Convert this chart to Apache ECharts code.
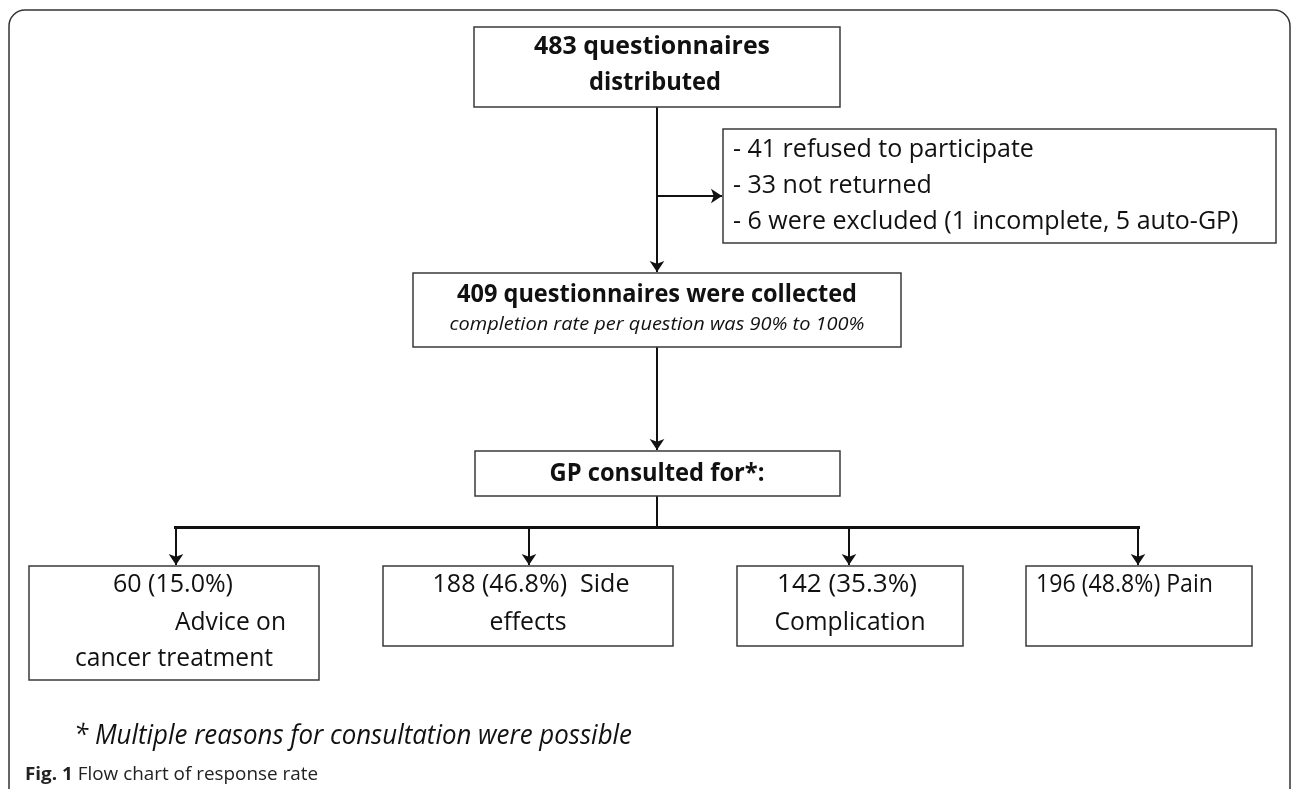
<!DOCTYPE html>
<html>
<head>
<meta charset="utf-8">
<script src="https://cdn.jsdelivr.net/npm/echarts@6/dist/echarts.min.js"></script>
<style>
html, body { margin: 0; padding: 0; background: #fff; }
#main { width: 1292px; height: 789px; }
</style>
</head>
<body>
<div id="main"></div>
<script>
// flow chart values
var distributed = 483;
var excludedCounts = [41, 33, 6];
var excludedReasons = ['refused to participate', 'not returned', 'were excluded (1 incomplete, 5 auto-GP)'];
var collected = 409;
var completionRange = [90, 100];
var reasonCounts = [60, 188, 142, 196];
var reasonPercents = ['15.0', '46.8', '35.3', '48.8'];
var reasonNames = ['Advice on cancer treatment', 'Side effects', 'Complication', 'Pain'];

// layout, in the chart's own units (x 0..1292, y 0..789, y pointing down)
var boxRects = [
  [474, 27, 840, 107],    // distributed
  [723, 129, 1276, 243],  // excluded
  [413, 273, 901, 347],   // collected
  [475, 451, 840, 496],   // GP consulted
  [29, 566, 319, 680],
  [383, 566, 673, 646],
  [737, 566, 963, 646],
  [1026, 566, 1252, 646]
];
var arrowEdges = [
  [[657, 107], [657, 272]],
  [[657, 196], [722, 196]],
  [[657, 347], [657, 450]],
  [[176, 527], [176, 565]],
  [[529, 527], [529, 565]],
  [[849, 527], [849, 565]],
  [[1138, 527], [1138, 565]]
];
var plainEdges = [
  [[657, 496], [657, 527]]
];
var busEdge = [[174, 527], [1140, 527]];

var F = '"Open Sans", "Noto Sans", sans-serif';
var BOLD = 'bold 25px ' + F;
var REG = '25px ' + F;

// text line: x, y = anchor, w = width of the line in the reference (0 = natural)
function line(text, x, y, w, font, align) {
  return { text: text, x: x, y: y, w: w, font: font, align: align || 'center' };
}

var boxLines = [
  [line(distributed + ' questionnaires', 652, 47, 236, BOLD),
   line('distributed', 655, 83, 132, BOLD)],
  excludedCounts.map(function (c, i) {
    return line('- ' + c + ' ' + excludedReasons[i], 733, 150 + i * 36, 0, REG, 'left');
  }),
  [line(collected + ' questionnaires were collected', 657, 295, 400, BOLD),
   line('completion rate per question was ' + completionRange[0] + '% to ' + completionRange[1] + '%', 657, 325, 415, 'italic 19px ' + F)],
  [line('GP consulted for*:', 657, 474, 215, BOLD)],
  [line(reasonCounts[0] + ' (' + reasonPercents[0] + '%)', 113, 585, 120, REG, 'left'),
   line(reasonNames[0].split(' ').slice(0, 2).join(' '), 286, 623, 111, REG, 'right'),
   line(reasonNames[0].split(' ').slice(2).join(' '), 174, 659, 198, REG)],
  [line(reasonCounts[1] + ' (' + reasonPercents[1] + '%)  ' + reasonNames[1].split(' ')[0], 531, 585, 197, REG),
   line(reasonNames[1].split(' ')[1], 528, 623, 77, REG)],
  [line(reasonCounts[2] + ' (' + reasonPercents[2] + '%)', 847, 585, 140, REG),
   line(reasonNames[2], 850, 623, 151, REG)],
  [line(reasonCounts[3] + ' (' + reasonPercents[3] + '%) ' + reasonNames[3], 1036, 585, 177, REG, 'left')]
];

// squeeze a line horizontally so it covers the same width as in the reference
var measureCtx = document.createElement('canvas').getContext('2d');
function textWidth(text, font) {
  measureCtx.font = font;
  return measureCtx.measureText(text).width;
}
function fitScale(text, font, w) {
  if (!w) return 1;
  return w / textWidth(text, font);
}

var chart = echarts.init(document.getElementById('main'));

function renderBox(params, api) {
  var p0 = api.coord([api.value(0), api.value(1)]);
  var p1 = api.coord([api.value(2), api.value(3)]);
  var children = [{
    type: 'rect',
    shape: { x: p0[0], y: p0[1], width: p1[0] - p0[0], height: p1[1] - p0[1] },
    style: { fill: '#fff', stroke: '#3a3a3a', lineWidth: 1.5 }
  }];
  boxLines[params.dataIndex].forEach(function (l) {
    var pt = api.coord([l.x, l.y]);
    children.push({
      type: 'text',
      x: pt[0], y: pt[1],
      scaleX: fitScale(l.text, l.font, l.w), scaleY: 1,
      style: {
        text: l.text, font: l.font, fill: '#111',
        align: l.align, verticalAlign: 'middle'
      }
    });
  });
  return { type: 'group', children: children };
}

var footnote = '* Multiple reasons for consultation were possible';
var footFont = 'italic 27px ' + F;
var capBold = 'bold 18px ' + F;
var capReg = '18px ' + F;
var capScale = 293 / (textWidth('Fig. 1', capBold) + textWidth(' Flow chart of response rate', capReg));

var option = {
  backgroundColor: '#fff',
  animation: false,
  grid: { left: 0, right: 0, top: 0, bottom: 0 },
  xAxis: { type: 'value', min: 0, max: 1292, show: false },
  yAxis: { type: 'value', min: 0, max: 789, inverse: true, show: false },
  graphic: [
    {
      type: 'rect',
      shape: { x: 9, y: 10, width: 1281, height: 820, r: 16 },
      style: { fill: 'none', stroke: '#333', lineWidth: 1.5 },
      z: 0
    },
    {
      type: 'text', x: 74, y: 736,
      scaleX: fitScale(footnote, footFont, 558),
      style: { text: footnote, font: footFont, fill: '#111', verticalAlign: 'middle' }
    },
    {
      type: 'text', x: 25, y: 775,
      scaleX: capScale,
      style: {
        text: '{b|Fig. 1} Flow chart of response rate',
        font: capReg, fill: '#222', verticalAlign: 'middle',
        rich: { b: { font: capBold, fill: '#222' } }
      }
    }
  ],
  series: [
    {
      type: 'lines',
      coordinateSystem: 'cartesian2d',
      symbol: ['none', 'arrow'],
      symbolSize: [9, 11],
      lineStyle: { color: '#111', width: 2, opacity: 1 },
      data: arrowEdges.map(function (e) { return { coords: e }; }),
      z: 3
    },
    {
      type: 'lines',
      coordinateSystem: 'cartesian2d',
      symbol: 'none',
      lineStyle: { color: '#111', width: 2, opacity: 1 },
      data: plainEdges.map(function (e) { return { coords: e }; }),
      z: 3
    },
    {
      type: 'lines',
      coordinateSystem: 'cartesian2d',
      symbol: 'none',
      lineStyle: { color: '#111', width: 3, opacity: 1 },
      data: [{ coords: busEdge }],
      z: 3
    },
    {
      type: 'custom',
      renderItem: renderBox,
      data: boxRects,
      z: 4
    }
  ]
};
chart.setOption(option);
</script>
</body>
</html>
